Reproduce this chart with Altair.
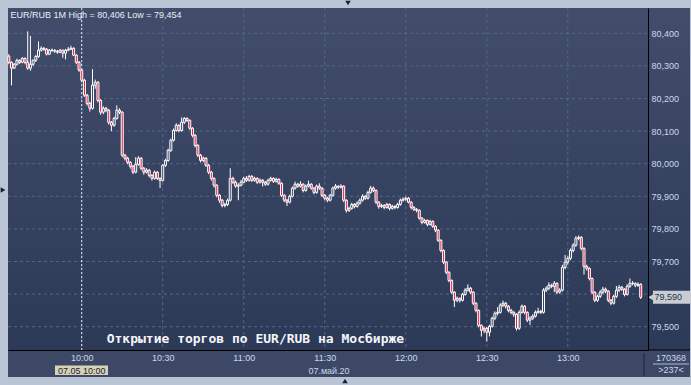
import altair as alt
import pandas as pd

# ---------------- data ----------------
first_minute = 573          # 09:33, minutes after midnight
first_open = 80.330

closes = [
    80.311, 80.293, 80.305, 80.317, 80.311, 80.323, 80.311, 80.293, 80.305, 80.317,
    80.329, 80.348, 80.354, 80.351, 80.336, 80.348, 80.348, 80.345, 80.342, 80.348,
    80.339, 80.348, 80.351, 80.354, 80.333, 80.311, 80.287, 80.256, 80.210, 80.185,
    80.170, 80.241, 80.250, 80.194, 80.158, 80.170, 80.164, 80.127, 80.118, 80.139,
    80.164, 80.158, 80.026, 80.017, 80.004, 79.992, 79.974, 79.998, 80.017, 79.986,
    79.974, 79.980, 79.964, 79.955, 79.974, 79.955, 79.949, 79.995, 80.010, 80.041,
    80.072, 80.102, 80.118, 80.102, 80.127, 80.139, 80.133, 80.109, 80.087, 80.056,
    80.026, 80.010, 80.017, 79.995, 79.974, 79.955, 79.934, 79.903, 79.888, 79.872,
    79.875, 79.888, 79.955, 79.943, 79.931, 79.934, 79.943, 79.955, 79.949, 79.961,
    79.949, 79.955, 79.943, 79.949, 79.943, 79.937, 79.949, 79.955, 79.946, 79.952,
    79.940, 79.903, 79.888, 79.882, 79.900, 79.925, 79.937, 79.931, 79.937, 79.918,
    79.931, 79.937, 79.925, 79.912, 79.931, 79.925, 79.903, 79.894, 79.888, 79.903,
    79.925, 79.931, 79.928, 79.931, 79.888, 79.857, 79.863, 79.875, 79.869, 79.879,
    79.888, 79.900, 79.894, 79.912, 79.925, 79.918, 79.882, 79.869, 79.872, 79.866,
    79.875, 79.863, 79.869, 79.866, 79.875, 79.888, 79.891, 79.894, 79.882, 79.866,
    79.860, 79.857, 79.833, 79.820, 79.826, 79.814, 79.823, 79.808, 79.796, 79.765,
    79.734, 79.698, 79.667, 79.642, 79.606, 79.581, 79.587, 79.581, 79.599, 79.612,
    79.618, 79.606, 79.572, 79.550, 79.504, 79.489, 79.495, 79.483, 79.501, 79.526,
    79.541, 79.544, 79.566, 79.572, 79.563, 79.550, 79.544, 79.538, 79.495, 79.544,
    79.563, 79.544, 79.520, 79.526, 79.532, 79.544, 79.547, 79.544, 79.612, 79.618,
    79.627, 79.624, 79.633, 79.606, 79.612, 79.682, 79.698, 79.710, 79.734, 79.750,
    79.771, 79.774, 79.740, 79.685, 79.679, 79.648, 79.606, 79.581, 79.593, 79.606,
    79.615, 79.609, 79.581, 79.572, 79.593, 79.612, 79.621, 79.615, 79.599, 79.624,
    79.633, 79.633, 79.627, 79.630, 79.590,
]

highs = [
    80.336, 80.314, 80.309, 80.322, 80.320, 80.327, 80.326, 80.406, 80.392, 80.320,
    80.333, 80.375, 80.360, 80.358, 80.355, 80.352, 80.353, 80.351, 80.349, 80.352,
    80.350, 80.352, 80.358, 80.362, 80.357, 80.336, 80.315, 80.290, 80.260, 80.214,
    80.190, 80.290, 80.258, 80.253, 80.198, 80.176, 80.174, 80.168, 80.131, 80.144,
    80.179, 80.170, 80.161, 80.030, 80.021, 80.008, 79.996, 80.020, 80.023, 80.020,
    79.990, 79.986, 79.984, 79.968, 79.979, 79.977, 79.958, 79.999, 80.015, 80.046,
    80.077, 80.108, 80.124, 80.121, 80.142, 80.143, 80.142, 80.136, 80.112, 80.091,
    80.060, 80.030, 80.022, 80.020, 79.999, 79.978, 79.958, 79.937, 79.907, 79.892,
    79.880, 79.893, 79.986, 79.960, 79.948, 79.940, 79.950, 79.960, 79.962, 79.966,
    79.965, 79.960, 79.958, 79.955, 79.953, 79.947, 79.954, 79.960, 79.958, 79.957,
    79.955, 79.943, 79.906, 79.892, 79.905, 79.930, 79.945, 79.941, 79.946, 79.940,
    79.936, 79.948, 79.940, 79.928, 79.936, 79.940, 79.928, 79.907, 79.898, 79.907,
    79.930, 79.938, 79.934, 79.937, 79.934, 79.891, 79.868, 79.880, 79.879, 79.884,
    79.893, 79.906, 79.904, 79.917, 79.932, 79.930, 79.921, 79.885, 79.877, 79.876,
    79.880, 79.878, 79.874, 79.873, 79.880, 79.893, 79.897, 79.899, 79.898, 79.885,
    79.870, 79.864, 79.860, 79.836, 79.831, 79.829, 79.828, 79.826, 79.811, 79.799,
    79.768, 79.737, 79.701, 79.670, 79.645, 79.609, 79.593, 79.590, 79.604, 79.618,
    79.630, 79.622, 79.609, 79.575, 79.553, 79.507, 79.500, 79.499, 79.506, 79.531,
    79.547, 79.560, 79.572, 79.580, 79.576, 79.566, 79.555, 79.548, 79.541, 79.550,
    79.568, 79.566, 79.547, 79.532, 79.538, 79.550, 79.558, 79.552, 79.618, 79.624,
    79.636, 79.632, 79.640, 79.636, 79.618, 79.690, 79.720, 79.716, 79.740, 79.756,
    79.778, 79.780, 79.778, 79.744, 79.690, 79.682, 79.651, 79.609, 79.598, 79.612,
    79.622, 79.620, 79.612, 79.585, 79.598, 79.625, 79.628, 79.625, 79.618, 79.630,
    79.648, 79.640, 79.636, 79.636, 79.633,
]

lows = [
    80.305, 80.240, 80.290, 80.301, 80.306, 80.308, 80.305, 80.288, 80.285, 80.300,
    80.312, 80.325, 80.344, 80.346, 80.332, 80.333, 80.343, 80.340, 80.337, 80.339,
    80.325, 80.320, 80.345, 80.349, 80.330, 80.306, 80.282, 80.250, 80.205, 80.178,
    80.160, 80.166, 80.230, 80.188, 80.150, 80.152, 80.158, 80.120, 80.100, 80.113,
    80.135, 80.152, 80.020, 80.010, 79.998, 79.985, 79.968, 79.970, 79.994, 79.980,
    79.966, 79.970, 79.958, 79.948, 79.951, 79.950, 79.925, 79.945, 79.990, 80.006,
    80.036, 80.068, 80.098, 80.096, 80.098, 80.122, 80.128, 80.104, 80.081, 80.050,
    80.020, 80.004, 80.005, 79.990, 79.968, 79.948, 79.927, 79.897, 79.880, 79.866,
    79.866, 79.870, 79.884, 79.938, 79.926, 79.888, 79.930, 79.940, 79.944, 79.945,
    79.944, 79.945, 79.938, 79.939, 79.930, 79.932, 79.933, 79.945, 79.941, 79.942,
    79.935, 79.898, 79.882, 79.870, 79.878, 79.896, 79.920, 79.926, 79.927, 79.912,
    79.914, 79.927, 79.920, 79.906, 79.908, 79.920, 79.897, 79.888, 79.882, 79.884,
    79.899, 79.920, 79.922, 79.924, 79.882, 79.850, 79.852, 79.859, 79.863, 79.865,
    79.874, 79.884, 79.889, 79.890, 79.908, 79.913, 79.876, 79.862, 79.864, 79.860,
    79.862, 79.857, 79.859, 79.860, 79.862, 79.871, 79.884, 79.886, 79.878, 79.860,
    79.855, 79.851, 79.828, 79.814, 79.816, 79.808, 79.810, 79.803, 79.790, 79.760,
    79.728, 79.692, 79.661, 79.636, 79.600, 79.560, 79.575, 79.574, 79.577, 79.595,
    79.608, 79.600, 79.566, 79.544, 79.498, 79.470, 79.480, 79.454, 79.470, 79.497,
    79.520, 79.535, 79.540, 79.560, 79.556, 79.544, 79.538, 79.530, 79.488, 79.490,
    79.540, 79.538, 79.514, 79.505, 79.520, 79.528, 79.540, 79.539, 79.540, 79.606,
    79.612, 79.618, 79.606, 79.600, 79.601, 79.608, 79.676, 79.690, 79.704, 79.728,
    79.745, 79.765, 79.734, 79.660, 79.672, 79.642, 79.600, 79.575, 79.576, 79.588,
    79.600, 79.603, 79.575, 79.566, 79.568, 79.588, 79.606, 79.610, 79.593, 79.595,
    79.619, 79.627, 79.621, 79.622, 79.585,
]

y_ticks = [79.5, 79.6, 79.7, 79.8, 79.9, 80.0, 80.1, 80.2, 80.3, 80.4]
y_label_ticks = [79.5, 79.7, 79.8, 79.9, 80.0, 80.1, 80.2, 80.3, 80.4]
x_ticks = [600, 630, 660, 690, 720, 750, 780]
cursor_minute = 600
last_price = 79.590

title_text = "EUR/RUB 1M High = 80,406 Low = 79,454"
note_text = "Открытие торгов по EUR/RUB на Мосбирже"
cursor_label = "07.05 10:00"
date_label = "07.май.20"
volume_text = "170368"
bars_text = ">237<"
last_label = "79,590"

# ---------------- table ----------------
n = min(len(closes), len(highs), len(lows))
closes, highs, lows = closes[:n], highs[:n], lows[:n]
opens = [first_open] + closes[:-1]
df = pd.DataFrame({
    "m": [first_minute + i for i in range(n)],
    "open": opens,
    "close": closes,
    "high": highs,
    "low": lows,
    "dir": ["down" if c < o else "up" for o, c in zip(opens, closes)],
})

# ---------------- style ----------------
W, H = 640, 342
FONT = "Liberation Sans"
LBL = "#cdd9ee"
GRID = "#566788"
RED = "#e5173f"
HOLLOW = "#36425f"
FRAME = "#b9c5d5"

xs = alt.Scale(domain=[572.7, 809.7], nice=False, zero=False, padding=0)
ys = alt.Scale(domain=[79.4285, 80.4776], nice=False, zero=False, padding=0)

X_AXIS = alt.Axis(
    values=x_ticks, grid=False, ticks=False, domain=True, domainColor="black",
    domainWidth=1, labelFont=FONT, labelFontSize=9, labelColor=LBL, labelPadding=3,
    labelFlush=False, labelOverlap=False, title=None, zindex=1,
    labelExpr="floor(datum.value / 60) + ':' + (datum.value % 60 < 10 ? '0' : '') + (datum.value % 60)",
)
Y_AXIS = alt.Axis(
    orient="right", values=y_label_ticks, grid=False, ticks=False, domain=True,
    domainColor="black", domainWidth=1, labelFont=FONT, labelFontSize=9,
    labelColor=LBL, labelPadding=3, labelFlush=False, labelOverlap=False,
    title=None, zindex=1,
    labelExpr="replace(format(datum.value, '.3f'), '.', ',')",
)

one = alt.Data(values=[{"k": 1}])

grad = {
    "gradient": "linear", "x1": 0, "y1": 0, "x2": 0, "y2": 1,
    "stops": [{"offset": 0, "color": "#414d6a"}, {"offset": 1, "color": "#2c3957"}],
}

bg = alt.Chart(one).mark_rect(color=grad).encode(
    x=alt.value(0), x2=alt.value(682), y=alt.value(0), y2=alt.value(H))
bottom_panel = alt.Chart(one).mark_rect(color="#3c4865").encode(
    x=alt.value(0), x2=alt.value(682), y=alt.value(H), y2=alt.value(369))

ygrid = alt.Chart(pd.DataFrame({"p": y_ticks})).mark_rule(
    color=GRID, strokeDash=[3, 3], strokeWidth=1).encode(
    y=alt.Y("p:Q", scale=ys, axis=Y_AXIS), x=alt.value(0), x2=alt.value(W))
xgrid = alt.Chart(pd.DataFrame({"m": x_ticks})).mark_rule(
    color=GRID, strokeDash=[3, 3], strokeWidth=1).encode(
    x=alt.X("m:Q", scale=xs, axis=X_AXIS), y=alt.value(0), y2=alt.value(H))

cursor = alt.Chart(pd.DataFrame({"m": [cursor_minute]})).mark_rule(
    color="#e6ebf3", strokeDash=[2, 2], strokeWidth=1).encode(
    x=alt.X("m:Q", scale=xs, axis=X_AXIS), y=alt.value(0), y2=alt.value(H))

base = alt.Chart(df)
wicks = base.mark_rule(color="white", strokeWidth=1).encode(
    x=alt.X("m:Q", scale=xs, axis=X_AXIS),
    y=alt.Y("low:Q", scale=ys, axis=Y_AXIS),
    y2="high:Q",
)
bodies = base.mark_bar(width=2, stroke="white", strokeWidth=1).encode(
    x=alt.X("m:Q", scale=xs, axis=X_AXIS),
    y=alt.Y("open:Q", scale=ys, axis=Y_AXIS),
    y2="close:Q",
    fill=alt.Fill("dir:N", scale=alt.Scale(domain=["up", "down"], range=[HOLLOW, RED]), legend=None),
)

title = alt.Chart(pd.DataFrame({"t": [title_text]})).mark_text(
    font=FONT, fontSize=9, color="#e8eef8", align="left", baseline="alphabetic").encode(
    x=alt.value(2.5), y=alt.value(9.5), text="t:N")

note = alt.Chart(pd.DataFrame({"t": [note_text]})).mark_text(
    font="DejaVu Sans Mono", fontSize=13, fontWeight="bold", color="#f4f6fa", align="left",
    baseline="alphabetic").encode(x=alt.value(98.7), y=alt.value(335), text="t:N")

tag_df = pd.DataFrame({"p": [last_price], "t": [last_label]})
tag = alt.Chart(tag_df).mark_tick(
    orient="horizontal", size=38, thickness=13, color="#c9cdd3", opacity=1).encode(
    x=alt.value(664), y=alt.Y("p:Q", scale=ys, axis=Y_AXIS))
tag_arrow = alt.Chart(tag_df).mark_point(
    shape="triangle-left", filled=True, size=45, color="#c9cdd3", opacity=1).encode(
    x=alt.value(643), y=alt.Y("p:Q", scale=ys, axis=Y_AXIS))
tag_text = alt.Chart(tag_df).mark_text(
    font=FONT, fontSize=9, color="#283040", align="left", baseline="middle").encode(
    x=alt.value(646.5), y=alt.Y("p:Q", scale=ys, axis=Y_AXIS), text="t:N")

cur_box = alt.Chart(one).mark_rect(color="#d6d3b6").encode(
    x=alt.value(47), x2=alt.value(100), y=alt.value(357.5), y2=alt.value(367))
cur_text = alt.Chart(pd.DataFrame({"m": [cursor_minute], "t": [cursor_label]})).mark_text(
    font=FONT, fontSize=9, color="#1c2230", align="center", baseline="middle").encode(
    x=alt.X("m:Q", scale=xs, axis=X_AXIS), y=alt.value(362.5), text="t:N")

date_text = alt.Chart(pd.DataFrame({"t": [date_label]})).mark_text(
    font=FONT, fontSize=9, color=LBL, align="center", baseline="middle").encode(
    x=alt.value(321), y=alt.value(362.5), text="t:N")

vol_text = alt.Chart(pd.DataFrame({"t": [volume_text]})).mark_text(
    font=FONT, fontSize=9, color=LBL, align="center", baseline="middle").encode(
    x=alt.value(663), y=alt.value(349.5), text="t:N")
bars_t = alt.Chart(pd.DataFrame({"t": [bars_text]})).mark_text(
    font=FONT, fontSize=9, color=LBL, align="center", baseline="middle").encode(
    x=alt.value(663), y=alt.value(362), text="t:N")

sep_h = alt.Chart(one).mark_rule(color="#aebbd0", strokeWidth=1).encode(
    x=alt.value(645), x2=alt.value(681), y=alt.value(356))
sep_v = alt.Chart(one).mark_rule(color="#1f2735", strokeWidth=1).encode(
    x=alt.value(636), y=alt.value(345), y2=alt.value(368))
black_h = alt.Chart(one).mark_rule(color="black", strokeWidth=1).encode(
    x=alt.value(640), x2=alt.value(682), y=alt.value(H))

tri_top = alt.Chart(one).mark_point(shape="triangle-down", filled=True, size=30,
                                    color="#1a2232", opacity=1).encode(
    x=alt.value(340), y=alt.value(-5))
tri_left = alt.Chart(one).mark_point(shape="triangle-right", filled=True, size=30,
                                     color="#1a2232", opacity=1).encode(
    x=alt.value(-5), y=alt.value(182))
tri_bot = alt.Chart(one).mark_point(shape="triangle-up", filled=True, size=30,
                                    color="#1a2232", opacity=1).encode(
    x=alt.value(337), y=alt.value(373))

chart = alt.layer(
    bg, bottom_panel, ygrid, xgrid, cursor, wicks, bodies, title, note,
    tag, tag_arrow, tag_text, cur_box, cur_text, date_text, vol_text, bars_t,
    sep_h, sep_v, black_h, tri_top, tri_left, tri_bot,
).properties(
    width=W, height=H,
    padding={"left": 8, "top": 8, "right": 43, "bottom": 35},
    autosize="none",
    background=FRAME,
).configure_view(strokeWidth=0)

chart.save("out.html", embed_options={"renderer": "svg", "actions": False})
